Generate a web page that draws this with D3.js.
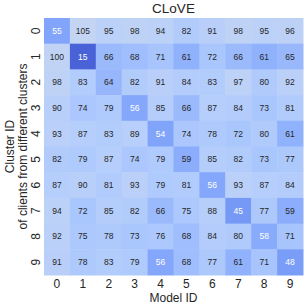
<!DOCTYPE html>
<html>
<head>
<meta charset="utf-8">
<script src="https://cdn.jsdelivr.net/npm/d3@7"></script>
<style>
  body { margin: 0; background: #fff; }
  text { font-family: "Liberation Sans", Arial, sans-serif; }
</style>
</head>
<body>
<div id="chart"></div>
<script>
const title = "CLoVE";
const clusters = ["0", "1", "2", "3", "4", "5", "6", "7", "8", "9"];
const models = ["0", "1", "2", "3", "4", "5", "6", "7", "8", "9"];
const values = [
    [55, 105, 95, 98, 94, 82, 91, 98, 95, 96],
    [100, 15, 66, 68, 71, 61, 72, 66, 61, 65],
    [98, 83, 64, 82, 91, 84, 83, 97, 80, 92],
    [90, 74, 79, 56, 85, 66, 87, 84, 73, 81],
    [93, 87, 83, 89, 54, 74, 78, 72, 80, 61],
    [82, 79, 87, 74, 79, 59, 85, 82, 73, 77],
    [87, 90, 81, 93, 79, 81, 56, 93, 87, 84],
    [94, 72, 85, 82, 66, 75, 88, 45, 77, 59],
    [92, 75, 78, 73, 76, 68, 84, 80, 58, 71],
    [91, 78, 83, 79, 56, 68, 77, 61, 71, 48]
];

const width = 308, height = 307;
const margin = {left: 44, right: 5, top: 18, bottom: 32};

const svg = d3.select("#chart").append("svg")
    .attr("width", width)
    .attr("height", height);

const x = d3.scaleBand().domain(models).range([margin.left, width - margin.right]);
const y = d3.scaleBand().domain(clusters).range([margin.top, height - margin.bottom]);

const color = d3.scaleLinear()
    .domain([15, 45, 55, 72, 90, 105])
    .range(["#4a62d8", "#7699f6", "#82a5fb", "#a9c6fd", "#b8cffa", "#c4d5f3"])
    .clamp(true);

const cells = [];
values.forEach((row, i) => row.forEach((v, j) => cells.push({r: clusters[i], c: models[j], v})));

svg.selectAll("rect.cell")
    .data(cells)
    .enter()
    .append("rect")
    .attr("class", "cell")
    .attr("x", d => x(d.c))
    .attr("y", d => y(d.r))
    .attr("width", x.bandwidth() + 0.5)
    .attr("height", y.bandwidth() + 0.5)
    .attr("fill", d => color(d.v));

svg.selectAll("text.val")
    .data(cells)
    .enter()
    .append("text")
    .attr("class", "val")
    .attr("x", d => x(d.c) + x.bandwidth() / 2)
    .attr("y", d => y(d.r) + y.bandwidth() / 2)
    .attr("text-anchor", "middle")
    .attr("dominant-baseline", "central")
    .attr("font-size", 8.5)
    .attr("fill", d => d.v < 58.5 ? "#ffffff" : "#262626")
    .text(d => d.v);

// x ticks
svg.selectAll("text.xtick")
    .data(models)
    .enter()
    .append("text")
    .attr("class", "xtick")
    .attr("x", d => x(d) + x.bandwidth() / 2)
    .attr("y", height - margin.bottom + 13)
    .attr("text-anchor", "middle")
    .attr("font-size", 12)
    .attr("fill", "#262626")
    .text(d => d);

// y ticks, rotated
svg.selectAll("text.ytick")
    .data(clusters)
    .enter()
    .append("text")
    .attr("class", "ytick")
    .attr("transform", d => `translate(${margin.left - 4},${y(d) + y.bandwidth() / 2}) rotate(-90)`)
    .attr("text-anchor", "middle")
    .attr("font-size", 12)
    .attr("fill", "#262626")
    .text(d => d);

svg.append("text")
    .attr("x", (margin.left + width - margin.right) / 2)
    .attr("y", height - 5)
    .attr("text-anchor", "middle")
    .attr("font-size", 12)
    .attr("fill", "#262626")
    .text("Model ID");

const yMid = (margin.top + height - margin.bottom) / 2;
svg.append("text")
    .attr("transform", `translate(14,${yMid}) rotate(-90)`)
    .attr("text-anchor", "middle")
    .attr("font-size", 12)
    .attr("fill", "#262626")
    .text("Cluster ID");
svg.append("text")
    .attr("transform", `translate(27,${yMid}) rotate(-90)`)
    .attr("text-anchor", "middle")
    .attr("font-size", 12)
    .attr("fill", "#262626")
    .text("of clients from different clusters");

svg.append("text")
    .attr("x", (margin.left + width - margin.right) / 2)
    .attr("y", 13)
    .attr("text-anchor", "middle")
    .attr("font-size", 13.5)
    .attr("fill", "#262626")
    .text(title);
</script>
</body>
</html>
